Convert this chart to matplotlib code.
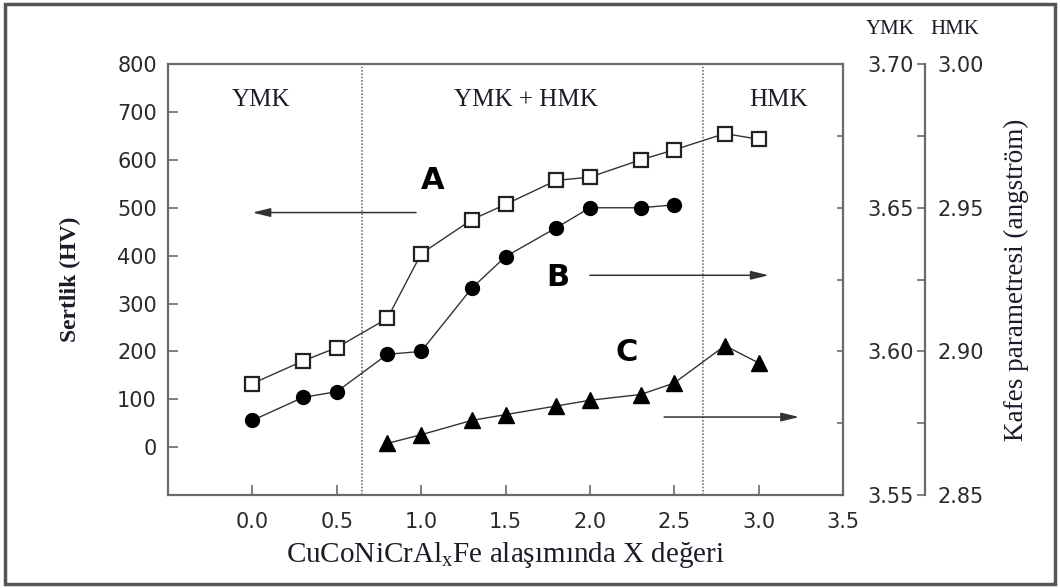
import matplotlib
matplotlib.use('Agg')
import matplotlib.pyplot as plt
from matplotlib.patches import Rectangle

# values
x_a = [0.0, 0.3, 0.5, 0.8, 1.0, 1.3, 1.5, 1.8, 2.0, 2.3, 2.5, 2.8, 3.0]
hv_a = [133, 180, 208, 269, 404, 475, 507, 557, 564, 600, 621, 655, 643]

x_b = [0.0, 0.3, 0.5, 0.8, 1.0, 1.3, 1.5, 1.8, 2.0, 2.3, 2.5]
ymk_b = [3.576, 3.584, 3.586, 3.599, 3.600, 3.622, 3.633, 3.643, 3.650, 3.650, 3.651]

x_c = [0.8, 1.0, 1.3, 1.5, 1.8, 2.0, 2.3, 2.5, 2.8, 3.0]
hmk_c = [2.868, 2.871, 2.876, 2.878, 2.881, 2.883, 2.885, 2.889, 2.902, 2.896]

phase_bounds = [0.65, 2.67]
phase_names = ['YMK', 'YMK + HMK', 'HMK']
phase_x = [0.05, 1.62, 3.12]

x_ticks = [0.0, 0.5, 1.0, 1.5, 2.0, 2.5, 3.0, 3.5]
hv_ticks = [0, 100, 200, 300, 400, 500, 600, 700, 800]
ymk_ticks = [3.55, 3.60, 3.65, 3.70]
hmk_ticks = [2.85, 2.90, 2.95, 3.00]

plt.rcParams['font.family'] = 'DejaVu Sans'
spine_col = '#6a6a6a'
txt_col = '#1c1c28'
tick_col = '#2a2a2a'
serif = 'Liberation Serif'

fig = plt.figure(figsize=(10.6, 5.88), dpi=100)
ax = fig.add_axes([0.1585, 0.158, 0.6368, 0.733])

# main axis: hardness
ax.plot(x_a, hv_a, color='#333333', lw=1, marker='s', ms=10,
        mfc='white', mec='#222222', mew=1.6, zorder=3)
ax.set_xlim(-0.5, 3.5)
ax.set_ylim(-100, 800)
ax.set_xticks(x_ticks)
ax.set_xticklabels([f'{t:.1f}' for t in x_ticks])
ax.set_yticks(hv_ticks)
ax.tick_params(axis='both', direction='in', length=7, width=1.2, color=spine_col,
               labelsize=15, labelcolor=tick_col)
ax.tick_params(axis='x', pad=12)
ax.tick_params(axis='y', pad=8)
ax.tick_params(axis='y', right=False)
for s in ax.spines.values():
    s.set_color(spine_col)
    s.set_linewidth(1.6)

for b in phase_bounds:
    ax.axvline(b, color='#777777', lw=1.2, ls=(0, (1, 1)), zorder=1)
for name, px in zip(phase_names, phase_x):
    ax.text(px, 724, name, ha='center', va='center', fontsize=18,
            family=serif, color=txt_col)

ax.set_xlabel('CuCoNiCrAl$_{\\mathregular{x}}$Fe alaşımında X değeri',
              family=serif, fontsize=21, color=txt_col, labelpad=6)
ax.set_ylabel('Sertlik (HV)', family=serif, fontsize=17, weight='bold',
              color=txt_col, labelpad=26)

# series labels and arrows
ax.text(1.07, 557, 'A', fontsize=22, weight='bold', ha='center', va='center')
ax.text(1.81, 355, 'B', fontsize=22, weight='bold', ha='center', va='center')
ax.text(2.22, 198, 'C', fontsize=22, weight='bold', ha='center', va='center')
arrow = dict(arrowstyle='-|>,head_length=0.9,head_width=0.22', color='#333333',
             lw=1.1, mutation_scale=12, shrinkA=0, shrinkB=0)
ax.annotate('', xy=(0.0, 490), xytext=(0.97, 490), arrowprops=arrow)
ax.annotate('', xy=(3.06, 359), xytext=(2.0, 359), arrowprops=arrow)
ax.annotate('', xy=(3.24, 63), xytext=(2.44, 63), arrowprops=arrow)

# YMK lattice parameter (circles), ticks on main right spine
ax2 = ax.twinx()
ax2.plot(x_b, ymk_b, color='#333333', lw=1, marker='o', ms=10,
         mfc='black', mec='black', zorder=3)
ax2.set_ylim(3.55, 3.70)
ax2.set_yticks([3.55, 3.575, 3.60, 3.625, 3.65, 3.675, 3.70])
ax2.tick_params(axis='y', direction='in', length=4, width=1.2, color=spine_col,
                labelright=False)
for s in ax2.spines.values():
    s.set_visible(False)

# detached spine: YMK labels on its left
ax3 = ax.twinx()
ax3.set_ylim(3.55, 3.70)
for s in ax3.spines.values():
    s.set_visible(False)
ax3.spines['left'].set_visible(True)
ax3.spines['left'].set_position(('axes', 1.1215))
ax3.spines['left'].set_color(spine_col)
ax3.spines['left'].set_linewidth(1.6)
ax3.yaxis.tick_left()
ax3.set_yticks(ymk_ticks)
ax3.set_yticklabels([f'{t:.2f}' for t in ymk_ticks])
ax3.set_yticks([3.575, 3.625, 3.675], minor=True)
ax3.tick_params(axis='y', which='both', direction='out', length=6, width=1.2,
                color=spine_col, labelsize=15, labelcolor=tick_col, pad=2)

# HMK lattice parameter (triangles), labels on right of same spine
ax4 = ax.twinx()
ax4.plot(x_c, hmk_c, color='#333333', lw=1, marker='^', ms=12,
         mfc='black', mec='black', zorder=3)
ax4.set_ylim(2.85, 3.00)
for s in ax4.spines.values():
    s.set_visible(False)
ax4.spines['right'].set_position(('axes', 1.1215))
ax4.set_yticks(hmk_ticks)
ax4.set_yticklabels([f'{t:.2f}' for t in hmk_ticks])
ax4.tick_params(axis='y', length=0, labelsize=15, labelcolor=tick_col, pad=9)
ax4.set_ylabel('Kafes parametresi (angström)', family=serif, fontsize=19.5,
               color=txt_col, labelpad=14)

fig.text(0.8396, 0.949, 'YMK', family=serif, fontsize=15, color=txt_col,
         ha='center', va='center')
fig.text(0.901, 0.949, 'HMK', family=serif, fontsize=15, color=txt_col,
         ha='center', va='center')

fig.patches.append(Rectangle((0.005, 0.006), 0.99, 0.988, transform=fig.transFigure,
                             fill=False, edgecolor='#555555', lw=2.5))

fig.savefig('out.png', dpi=100)
